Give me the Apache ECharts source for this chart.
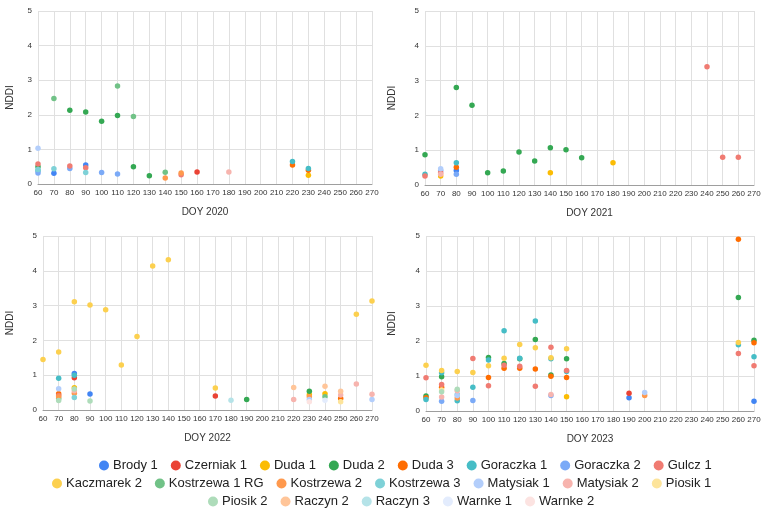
<!DOCTYPE html>
<html>
<head>
<meta charset="utf-8">
<script src="https://cdn.jsdelivr.net/npm/echarts@6/dist/echarts.min.js"></script>
<style>html,body{margin:0;padding:0;background:#fff}#c{width:764px;height:511px}</style>
</head>
<body>
<div id="c"></div>
<script>
// ---- DATA ----
const seriesNames = ['Brody 1','Czerniak 1','Duda 1','Duda 2','Duda 3','Goraczka 1','Goraczka 2','Gulcz 1',
  'Kaczmarek 2','Kostrzewa 1 RG','Kostrzewa 2','Kostrzewa 3','Matysiak 1','Matysiak 2','Piosik 1',
  'Piosik 2','Raczyn 2','Raczyn 3','Warnke 1','Warnke 2'];
const yearLabels = ['DOY 2020','DOY 2021','DOY 2022','DOY 2023'];
const xTicks = {min: 60, max: 270, step: 10};
const yTicks = {min: 0, max: 5, step: 1};

// rows: [series, DOY, NDDI]
const data2020 = [
  ['Matysiak 1',60,1.03],['Gulcz 1',60,0.58],['Duda 2',60,0.50],['Kostrzewa 3',60,0.42],['Goraczka 1',60,0.38],['Goraczka 2',60,0.32],
  ['Kostrzewa 1 RG',70,2.47],['Kostrzewa 3',70,0.44],['Brody 1',70,0.31],
  ['Duda 2',80,2.13],['Gulcz 1',80,0.52],['Goraczka 2',80,0.45],
  ['Duda 2',90,2.08],['Brody 1',90,0.55],['Gulcz 1',90,0.47],['Kostrzewa 3',90,0.33],
  ['Duda 2',100,1.81],['Goraczka 2',100,0.33],
  ['Kostrzewa 1 RG',110,2.83],['Duda 2',110,1.98],['Goraczka 2',110,0.29],
  ['Kostrzewa 1 RG',120,1.95],['Duda 2',120,0.50],
  ['Duda 2',130,0.24],
  ['Kostrzewa 1 RG',140,0.34],['Kostrzewa 2',140,0.17],
  ['Kostrzewa 2',150,0.32],['Gulcz 1',150,0.27],
  ['Czerniak 1',160,0.35],
  ['Matysiak 2',180,0.35],
  ['Goraczka 1',220,0.65],['Duda 3',220,0.55],
  ['Goraczka 1',230,0.45],['Duda 3',230,0.40],['Duda 1',230,0.25]
];
const data2021 = [
  ['Duda 2',60,0.87],['Goraczka 1',60,0.31],['Gulcz 1',60,0.26],
  ['Matysiak 1',70,0.47],['Goraczka 2',70,0.42],['Gulcz 1',70,0.35],['Matysiak 2',70,0.31],['Duda 1',70,0.26],
  ['Duda 2',80,2.80],['Goraczka 1',80,0.64],['Duda 3',80,0.51],['Brody 1',80,0.42],['Goraczka 2',80,0.31],
  ['Duda 2',90,2.29],['Duda 2',100,0.35],['Duda 2',110,0.40],['Duda 2',120,0.95],['Duda 2',130,0.69],
  ['Duda 2',140,1.07],['Duda 1',140,0.35],['Duda 2',150,1.01],['Duda 2',160,0.78],
  ['Duda 1',180,0.64],
  ['Gulcz 1',240,3.40],['Gulcz 1',250,0.80],['Gulcz 1',260,0.80]
];
const data2022 = [
  ['Kaczmarek 2',60,1.45],
  ['Kaczmarek 2',70,1.67],['Goraczka 1',70,0.91],['Matysiak 1',70,0.61],['Duda 3',70,0.47],['Gulcz 1',70,0.42],['Kostrzewa 2',70,0.38],['Kostrzewa 1 RG',70,0.33],['Piosik 2',70,0.27],
  ['Kaczmarek 2',80,3.11],['Brody 1',80,1.05],['Goraczka 1',80,1.00],['Czerniak 1',80,0.93],['Duda 1',80,0.64],['Piosik 2',80,0.60],['Matysiak 2',80,0.55],['Kostrzewa 2',80,0.48],['Kostrzewa 3',80,0.36],
  ['Kaczmarek 2',90,3.02],['Brody 1',90,0.46],['Piosik 2',90,0.26],
  ['Kaczmarek 2',100,2.88],['Kaczmarek 2',110,1.29],['Kaczmarek 2',120,2.11],['Kaczmarek 2',130,4.14],['Kaczmarek 2',140,4.32],
  ['Kaczmarek 2',170,0.63],['Czerniak 1',170,0.40],
  ['Raczyn 3',180,0.28],
  ['Duda 2',190,0.30],
  ['Raczyn 2',220,0.65],['Matysiak 2',220,0.30],
  ['Duda 2',230,0.54],['Duda 1',230,0.44],['Kostrzewa 2',230,0.38],['Matysiak 1',230,0.30],['Warnke 2',230,0.24],
  ['Raczyn 2',240,0.68],['Duda 1',240,0.47],['Kostrzewa 1 RG',240,0.38],['Warnke 1',240,0.28],
  ['Raczyn 2',250,0.54],['Matysiak 2',250,0.43],['Duda 3',250,0.33],['Piosik 1',250,0.24],
  ['Kaczmarek 2',260,2.75],['Matysiak 2',260,0.75],
  ['Kaczmarek 2',270,3.13],['Matysiak 2',270,0.45],['Matysiak 1',270,0.30]
];
const data2023 = [
  ['Kaczmarek 2',60,1.31],['Gulcz 1',60,0.95],['Duda 2',60,0.43],['Duda 3',60,0.38],['Goraczka 1',60,0.33],
  ['Kaczmarek 2',70,1.16],['Goraczka 1',70,1.09],['Duda 2',70,0.98],['Gulcz 1',70,0.76],['Duda 3',70,0.68],['Piosik 1',70,0.60],['Piosik 2',70,0.55],['Matysiak 2',70,0.40],['Goraczka 2',70,0.28],
  ['Kaczmarek 2',80,1.13],['Piosik 2',80,0.62],['Matysiak 2',80,0.58],['Kostrzewa 3',80,0.47],['Matysiak 1',80,0.44],['Kostrzewa 2',80,0.37],['Goraczka 1',80,0.29],
  ['Gulcz 1',90,1.50],['Kaczmarek 2',90,1.10],['Goraczka 1',90,0.68],['Goraczka 2',90,0.30],
  ['Duda 2',100,1.53],['Goraczka 1',100,1.46],['Kaczmarek 2',100,1.29],['Duda 3',100,0.96],['Gulcz 1',100,0.72],
  ['Goraczka 1',110,2.29],['Kaczmarek 2',110,1.51],['Duda 2',110,1.36],['Gulcz 1',110,1.31],['Duda 3',110,1.22],
  ['Kaczmarek 2',120,1.90],['Goraczka 1',120,1.51],['Duda 2',120,1.49],['Gulcz 1',120,1.28],['Duda 3',120,1.22],
  ['Goraczka 1',130,2.57],['Duda 2',130,2.04],['Kaczmarek 2',130,1.81],['Duda 3',130,1.20],['Gulcz 1',130,0.71],
  ['Gulcz 1',140,1.82],['Kaczmarek 2',140,1.52],['Goraczka 1',140,1.49],['Duda 2',140,1.03],['Duda 3',140,0.99],['Matysiak 2',140,0.47],['Goraczka 2',140,0.44],
  ['Kaczmarek 2',150,1.78],['Duda 2',150,1.49],['Gulcz 1',150,1.16],['Goraczka 1',150,1.13],['Duda 3',150,0.96],['Duda 1',150,0.41],
  ['Czerniak 1',190,0.51],['Brody 1',190,0.38],
  ['Matysiak 1',200,0.53],['Kostrzewa 2',200,0.44],
  ['Duda 3',260,4.91],['Duda 2',260,3.24],['Kaczmarek 2',260,1.96],['Goraczka 1',260,1.89],['Gulcz 1',260,1.64],
  ['Duda 2',270,2.02],['Duda 3',270,1.95],['Goraczka 1',270,1.55],['Gulcz 1',270,1.29],['Brody 1',270,0.28]
];
const yearData = [data2020, data2021, data2022, data2023];

// ---- STYLE ----
const palette = ['#4285f4','#ea4335','#fbbc04','#34a853','#ff6d01','#46bdc6','#7baaf7','#f07b72',
  '#fcd04f','#71c287','#ff994d','#7ed1d7','#b3cefb','#f7b4ae','#fde49b',
  '#aedcba','#ffc599','#b5e3e8','#e3ecfd','#fce3e1'];
const grids = [
  {left: 38, top: 11, width: 334, height: 173},
  {left: 425, top: 11, width: 329, height: 174},
  {left: 43, top: 236, width: 329, height: 174},
  {left: 426, top: 236, width: 328, height: 175}
];
const yNameGap = [23, 28, 28, 29];
const FONT = 'Arial, "Liberation Sans", sans-serif';

const xAxes = grids.map((g, i) => ({
  type: 'value', gridIndex: i, min: xTicks.min, max: xTicks.max, interval: xTicks.step,
  name: yearLabels[i], nameLocation: 'middle', nameGap: 23,
  nameTextStyle: {fontFamily: FONT, fontSize: 10, color: '#333'},
  axisLine: {show: true, lineStyle: {color: '#9e9e9e', width: 1}},
  axisTick: {show: false},
  axisLabel: {fontFamily: FONT, fontSize: 8, color: '#333', margin: 5},
  splitLine: {show: true, lineStyle: {color: '#e0e0e0', width: 1}}
}));
const yAxes = grids.map((g, i) => ({
  type: 'value', gridIndex: i, min: yTicks.min, max: yTicks.max, interval: yTicks.step,
  name: 'NDDI', nameLocation: 'middle', nameGap: yNameGap[i],
  nameTextStyle: {fontFamily: FONT, fontSize: 10, color: '#333'},
  axisLine: {show: false}, axisTick: {show: false},
  axisLabel: {fontFamily: FONT, fontSize: 8, color: '#333', margin: 6},
  splitLine: {show: true, lineStyle: {color: '#e0e0e0', width: 1}}
}));

const series = [];
yearData.forEach((rows, gi) => {
  seriesNames.forEach((name, si) => {
    const pts = rows.filter(r => r[0] === name).map(r => [r[1], r[2]]);
    series.push({
      name: name, type: 'scatter', xAxisIndex: gi, yAxisIndex: gi,
      data: pts, symbol: 'circle', symbolSize: 5.5,
      itemStyle: {color: palette[si], opacity: 1},
      emphasis: {disabled: true}, animation: false
    });
  });
});

const legendRows = [seriesNames.slice(0, 8), seriesNames.slice(8, 15), seriesNames.slice(15)];
const legendTops = [454, 472, 490];
const legendLefts = [94, 47, 203];
const legends = legendRows.map((names, i) => ({
  data: names, left: legendLefts[i], top: legendTops[i], orient: 'horizontal',
  icon: 'circle', itemWidth: 10, itemHeight: 10, itemGap: 13,
  textStyle: {fontFamily: FONT, fontSize: 13, color: '#222', padding: [0, 0, 0, -1]},
  selectedMode: false
}));

const chart = echarts.init(document.getElementById('c'), null, {renderer: 'canvas'});
chart.setOption({
  animation: false,
  color: palette,
  grid: grids.map(g => Object.assign({containLabel: false}, g)),
  xAxis: xAxes,
  yAxis: yAxes,
  legend: legends,
  series: series
});
</script>
</body>
</html>
